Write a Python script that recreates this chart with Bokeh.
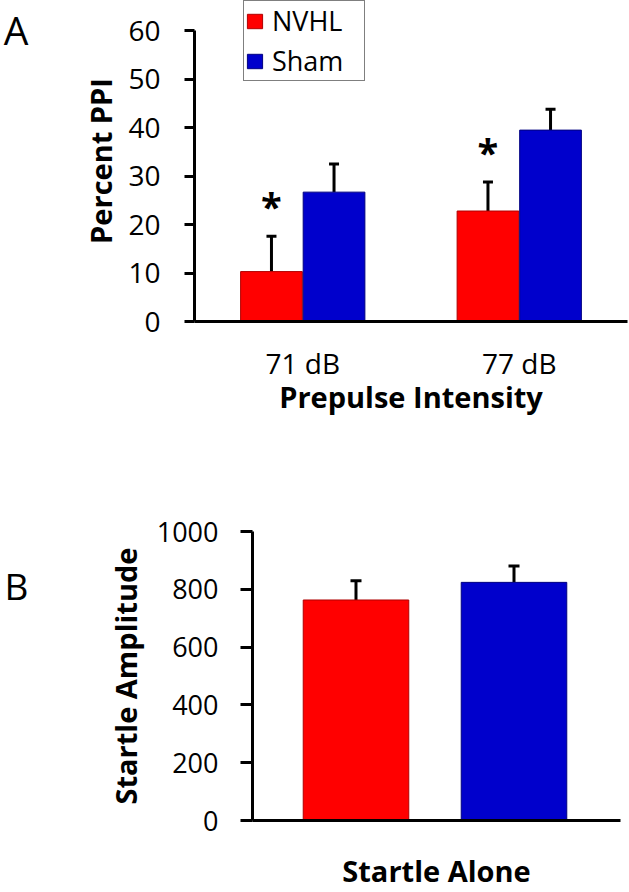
from bokeh.plotting import figure
from bokeh.models import (Range1d, FixedTicker, ColumnDataSource, Whisker, TeeHead,
                          Legend, LegendItem, LinearAxis)
from bokeh.layouts import column
from bokeh.embed import file_html
from bokeh.resources import INLINE
from bokeh.core.properties import value

# ---------------- data ----------------
groups = ["NVHL", "Sham"]
colors = ["#FF0000", "#0000CC"]
edge_colors = ["#B00000", "#000080"]

intensities = ["71 dB", "77 dB"]
nvhl_ppi = [10.3, 22.8]
nvhl_ppi_sem = [7.3, 6.0]
sham_ppi = [26.7, 39.5]
sham_ppi_sem = [5.8, 4.3]
significant = ["*", "*"]
ppi_ticks = [0, 10, 20, 30, 40, 50, 60]

startle_means = [763, 824]
startle_sem = [67, 57]
startle_ticks = [0, 200, 400, 600, 800, 1000]

panel_letters = ["A", "B"]

FONT = "Open Sans"


def style_axes(p, tick_size):
    p.outline_line_color = None
    p.grid.visible = False
    p.background_fill_color = "white"
    p.border_fill_color = "white"
    for ax in (p.xaxis[0], p.yaxis[0]):
        ax.axis_line_width = 3
        ax.axis_line_color = "black"
        ax.major_tick_line_width = 3
        ax.major_tick_line_color = "black"
        ax.minor_tick_line_color = None
        ax.major_label_text_font = FONT
        ax.major_label_text_font_size = tick_size
        ax.major_label_text_color = "black"
        ax.axis_label_text_font = FONT
        ax.axis_label_text_font_style = "bold"
        ax.axis_label_text_font_size = "29px"
        ax.axis_label_text_color = "black"


def letter_axis(p, y, letter, size, standoff):
    # a bare left axis whose single tick label is the panel letter
    ax = LinearAxis(ticker=FixedTicker(ticks=[y]),
                    major_label_overrides={y: letter},
                    axis_line_color=None, major_tick_line_color=None,
                    minor_tick_line_color=None, major_tick_out=0,
                    major_tick_in=0, major_label_standoff=standoff,
                    major_label_text_font=FONT,
                    major_label_text_font_size=size,
                    major_label_text_color="black")
    p.add_layout(ax, "left")


# ---------------- panel A ----------------
pA = figure(width=629, height=425, output_backend="svg", toolbar_location=None,
            x_range=Range1d(0, 2), y_range=Range1d(0, 66.25),
            min_border_left=192, min_border_right=2, min_border_top=0,
            min_border_bottom=104, frame_align=False)
style_axes(pA, "28px")

group_x = [i + 0.5 for i in range(len(intensities))]
offset = 0.1445
bw = 0.285

src_n = ColumnDataSource(dict(
    x=[g - offset for g in group_x], top=nvhl_ppi,
    upper=[m + s for m, s in zip(nvhl_ppi, nvhl_ppi_sem)], star=significant))
src_s = ColumnDataSource(dict(
    x=[g + offset for g in group_x], top=sham_ppi,
    upper=[m + s for m, s in zip(sham_ppi, sham_ppi_sem)]))

rn = pA.vbar(x="x", top="top", width=bw, source=src_n,
             fill_color=colors[0], line_color=edge_colors[0], line_width=1)
rs = pA.vbar(x="x", top="top", width=bw, source=src_s,
             fill_color=colors[1], line_color=edge_colors[1], line_width=1)

for src in (src_n, src_s):
    pA.add_layout(Whisker(source=src, base="x", lower="top", upper="upper",
                          lower_head=None,
                          upper_head=TeeHead(size=10, line_width=3, line_color="black"),
                          line_width=3, line_color="black"))

pA.text(x="x", y="upper", text="star", source=src_n, text_font=value(FONT),
        text_font_style="bold", text_font_size="38px", text_align="center",
        text_baseline="alphabetic", y_offset=-30, text_color="black")

pA.yaxis.ticker = FixedTicker(ticks=ppi_ticks)
pA.yaxis.bounds = (0, 60)
pA.yaxis.major_tick_out = 10
pA.yaxis.major_tick_in = 0
pA.yaxis.major_label_standoff = 24
pA.yaxis.axis_label = "Percent PPI"
pA.yaxis.axis_label_standoff = 5

pA.xaxis.ticker = FixedTicker(ticks=group_x)
pA.xaxis.major_label_overrides = {g: lab for g, lab in zip(group_x, intensities)}
pA.xaxis.major_tick_line_color = None
pA.xaxis.major_tick_out = 0
pA.xaxis.major_tick_in = 0
pA.xaxis.major_label_standoff = 22
pA.xaxis.axis_label = "Prepulse Intensity"
pA.xaxis.axis_label_standoff = -8

legend = Legend(items=[LegendItem(label=groups[0], renderers=[rn]),
                       LegendItem(label=groups[1], renderers=[rs])],
                location=(49, 240), orientation="vertical",
                label_text_font=FONT, label_text_font_size="27px",
                label_text_color="black",
                glyph_width=19, glyph_height=18, label_standoff=8,
                padding=1, spacing=3, label_width=91, label_height=18,
                border_line_color="black", border_line_width=1.5,
                background_fill_color="white", background_fill_alpha=1.0,
                margin=0)
pA.add_layout(legend)

letter_axis(pA, 60.2, panel_letters[0], "39px", 50)

# ---------------- panel B ----------------
pB = figure(width=629, height=467, output_backend="svg", toolbar_location=None,
            x_range=Range1d(0.345, 2.674), y_range=Range1d(0, 1000),
            min_border_left=252, min_border_right=9, min_border_top=106,
            min_border_bottom=70, frame_align=False)
style_axes(pB, "27px")

bx = [i + 1 for i in range(len(groups))]
src_b = ColumnDataSource(dict(
    x=bx, top=startle_means,
    upper=[m + s for m, s in zip(startle_means, startle_sem)],
    fill=colors, edge=edge_colors))
pB.vbar(x="x", top="top", width=0.668, source=src_b, fill_color="fill",
        line_color="edge", line_width=1)
pB.add_layout(Whisker(source=src_b, base="x", lower="top", upper="upper",
                      lower_head=None,
                      upper_head=TeeHead(size=11, line_width=3, line_color="black"),
                      line_width=3, line_color="black"))

pB.yaxis.ticker = FixedTicker(ticks=startle_ticks)
pB.yaxis.major_tick_out = 12
pB.yaxis.major_tick_in = 0
pB.yaxis.major_label_standoff = 22
pB.yaxis.axis_label = "Startle Amplitude"
pB.yaxis.axis_label_standoff = 9

pB.xaxis.ticker = FixedTicker(ticks=[])
pB.xaxis.major_tick_line_color = None
pB.xaxis.axis_label = "Startle Alone"
pB.xaxis.axis_label_standoff = 30

letter_axis(pB, 814, panel_letters[1], "37px", 74)

layout = column(pA, pB, spacing=0)
open("out.html", "w").write(file_html(layout, INLINE))
